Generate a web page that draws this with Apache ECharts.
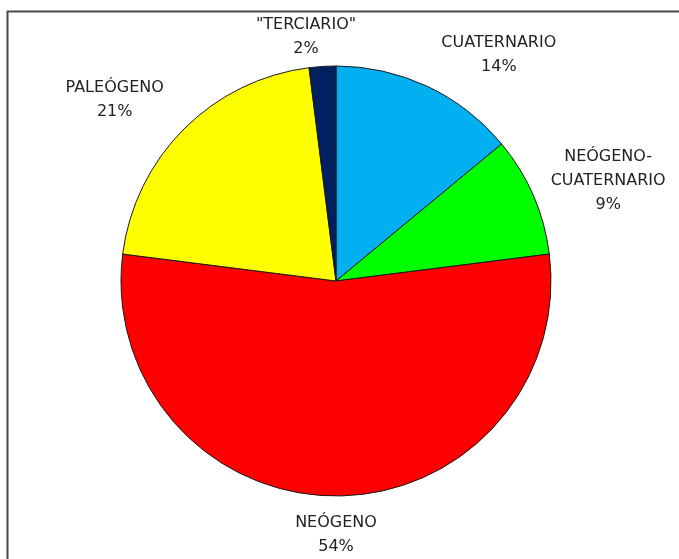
<!DOCTYPE html>
<html>
<head>
<meta charset="utf-8">
<script src="https://cdn.jsdelivr.net/npm/echarts@6/dist/echarts.min.js"></script>
<style>
  html, body { margin: 0; padding: 0; background: #fff; }
  #chart { width: 679px; height: 559px; }
</style>
</head>
<body>
<div id="chart"></div>
<script>
// Share of units by geological period (percent)
const categories = ['CUATERNARIO', 'NEÓGENO-\nCUATERNARIO', 'NEÓGENO', 'PALEÓGENO', '"TERCIARIO"'];
const shares = [14, 9, 54, 21, 2];
const sliceColors = ['#00B0F0', '#00FF00', '#FF0000', '#FFFF00', '#002060'];

// Pie geometry (px) and per-label placement: angular nudge (deg) and
// distance of the label block's centre from the pie centre
const CX = 336, CY = 281, R = 215;
const labelNudgeDeg = [10.5, 3.2, 0, -5.7, -3.4];
const labelDistance = [279, 290, 254, 286, 246];

// Mid-angle of each slice, clockwise from 12 o'clock
const total = shares.reduce((a, b) => a + b, 0);
const midAngles = [];
{
  let acc = 0;
  shares.forEach(v => {
    midAngles.push(((acc + v / 2) / total) * 2 * Math.PI);
    acc += v;
  });
}

const chart = echarts.init(document.getElementById('chart'), null, { renderer: 'canvas' });

chart.setOption({
  backgroundColor: '#fff',
  animation: false,
  graphic: [{
    type: 'rect',
    shape: { x: 7.5, y: 11.5, width: 720, height: 600 },
    style: { fill: 'none', stroke: '#4a4a4a', lineWidth: 2 },
    silent: true
  }],
  series: [{
    type: 'pie',
    center: [CX, CY],
    radius: R,
    startAngle: 90,
    clockwise: true,
    data: categories.map((name, i) => ({
      name: name,
      value: shares[i],
      itemStyle: { color: sliceColors[i] }
    })),
    itemStyle: { borderColor: '#1a1a1a', borderWidth: 1 },
    label: {
      show: true,
      position: 'outside',
      formatter: p => p.name + '\n' + p.value + '%',
      fontFamily: '"DejaVu Sans", sans-serif',
      fontSize: 16,
      lineHeight: 24,
      color: '#222',
      align: 'center',
      overflow: 'none'
    },
    labelLine: { show: false },
    // Place each label block outside the rim along its slice's direction
    labelLayout: function (params) {
      const i = params.dataIndex;
      const a = midAngles[i] + labelNudgeDeg[i] * Math.PI / 180;
      const d = labelDistance[i];
      return {
        x: CX + Math.sin(a) * d,
        y: CY - Math.cos(a) * d,
        align: 'center',
        verticalAlign: 'middle'
      };
    },
    emphasis: { disabled: true }
  }]
});
</script>
</body>
</html>
